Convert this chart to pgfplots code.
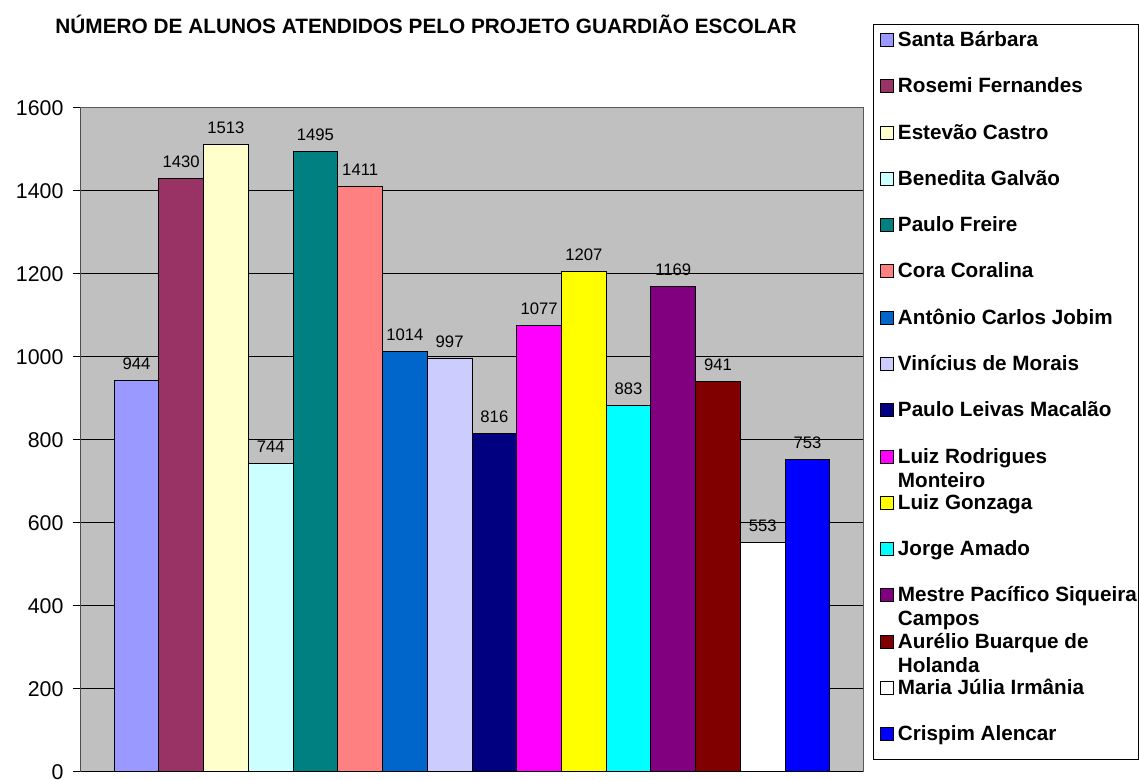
\documentclass[border=0pt]{standalone}
\usepackage{pgfplots}
\pgfplotsset{compat=1.18}
\usepackage{fontspec}
\setmainfont{Liberation Sans}

\definecolor{plotgray}{HTML}{C0C0C0}
\definecolor{c1}{HTML}{9999FF}
\definecolor{c2}{HTML}{993366}
\definecolor{c3}{HTML}{FFFFCC}
\definecolor{c4}{HTML}{CCFFFF}
\definecolor{c5}{HTML}{008080}
\definecolor{c6}{HTML}{FF8080}
\definecolor{c7}{HTML}{0066CC}
\definecolor{c8}{HTML}{CCCCFF}
\definecolor{c9}{HTML}{000080}
\definecolor{c10}{HTML}{FF00FF}
\definecolor{c11}{HTML}{FFFF00}
\definecolor{c12}{HTML}{00FFFF}
\definecolor{c13}{HTML}{800080}
\definecolor{c14}{HTML}{800000}
\definecolor{c15}{HTML}{FFFFFF}
\definecolor{c16}{HTML}{0000FF}

% two-line legend entry, aligned on its first line
\newcommand{\two}[2]{\begin{tabular}[t]{@{}l@{}}#1\\#2\end{tabular}}

\begin{document}
\begin{tikzpicture}[x=0.75pt,y=0.75pt]
\useasboundingbox (0,0) rectangle (1139,780);
\begin{axis}[
  at={(60.75pt,6pt)}, anchor=south west,
  scale only axis, width=586.5pt, height=498pt,
  ymin=0, ymax=1600, ytick={0,200,...,1600},
  xmin=-1.24, xmax=16.24, xtick=\empty,
  ymajorgrids, major grid style={black, line width=0.75pt},
  axis background/.style={fill=plotgray},
  axis line style={draw=gray!70!black, line width=0.75pt},
  ytick pos=left, tick align=outside, major tick length=6pt,
  ytick style={black, line width=0.75pt},
  yticklabel style={font=\fontsize{16}{19}\selectfont, inner sep=0pt, xshift=-7pt},
  /pgf/number format/.cd, 1000 sep={}, assume math mode=true, /pgfplots/.cd,
  ybar, bar width=1, bar shift=0pt,
  bars/.style={draw=black, line width=0.75pt, fill=#1},
  nodes near coords,
  every node near coord/.append style={font=\fontsize{12.5}{15}\selectfont, text=black, anchor=base, inner sep=0pt, yshift=8.25pt},
  legend image code/.code={\draw[#1, draw=black, line width=0.75pt] (0pt,0pt) rectangle (9.75pt,9.75pt);},
  legend cell align=left,
  legend style={draw=none, fill=none, at={(1.0217,1.1127)}, anchor=north west,
    inner sep=0pt, outer sep=0pt, row sep=24.2pt, column sep=3pt,
    font=\fontsize{15.5}{18}\selectfont\bfseries,
    nodes={inner sep=0pt, text height=10pt, text depth=0pt},
    cells={anchor=base west}},
]
\addplot[bars=c1] coordinates {(0,944)};
\addplot[bars=c2] coordinates {(1,1430)};
\addplot[bars=c3] coordinates {(2,1513)};
\addplot[bars=c4] coordinates {(3,744)};
\addplot[bars=c5] coordinates {(4,1495)};
\addplot[bars=c6] coordinates {(5,1411)};
\addplot[bars=c7] coordinates {(6,1014)};
\addplot[bars=c8] coordinates {(7,997)};
\addplot[bars=c9] coordinates {(8,816)};
\addplot[bars=c10] coordinates {(9,1077)};
\addplot[bars=c11] coordinates {(10,1207)};
\addplot[bars=c12] coordinates {(11,883)};
\addplot[bars=c13] coordinates {(12,1169)};
\addplot[bars=c14] coordinates {(13,941)};
\addplot[bars=c15] coordinates {(14,553)};
\addplot[bars=c16] coordinates {(15,753)};
\legend{Santa Bárbara, Rosemi Fernandes, Estevão Castro, Benedita Galvão,
  Paulo Freire, Cora Coralina, Antônio Carlos Jobim, Vinícius de Morais,
  Paulo Leivas Macalão, {\two{Luiz Rodrigues}{Monteiro}}, Luiz Gonzaga, Jorge Amado,
  {\two{Mestre Pacífico Siqueira}{Campos}}, {\two{Aurélio Buarque de}{Holanda}},
  Maria Júlia Irmânia, Crispim Alencar}
\draw[black, line width=0.75pt] (rel axis cs:0,1) -- (rel axis cs:0,0) -- (rel axis cs:1,0);
\end{axis}
\node[font=\fontsize{15.6}{18}\selectfont\bfseries, anchor=base] at (426,746.7)
  {NÚMERO DE ALUNOS ATENDIDOS PELO PROJETO GUARDIÃO ESCOLAR};
\draw[black, line width=0.75pt] (873,20) rectangle (1138.5,755);
\end{tikzpicture}
\end{document}
